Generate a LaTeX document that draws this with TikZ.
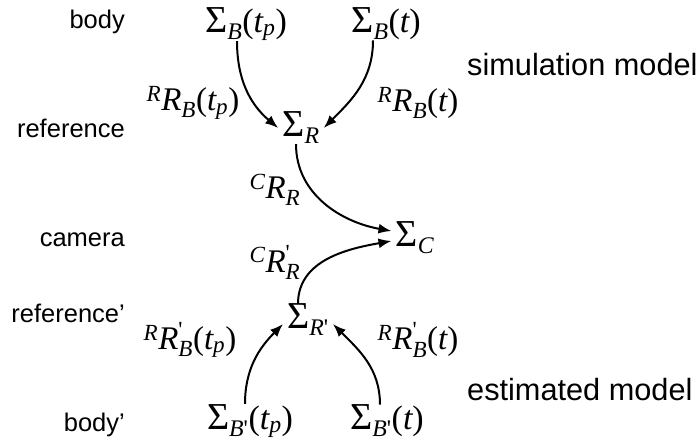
\documentclass[tikz,border=0pt]{standalone}
\usepackage{amsmath}
\usepackage{graphicx}
\usepackage{fontspec}
\setmainfont{Liberation Sans}
\newfontfamily\mfont{Liberation Serif}
\usetikzlibrary{arrows.meta}
\newcommand{\mi}[1]{\text{\mfont\itshape #1}}
\newcommand{\mr}[1]{\text{\mfont #1}}
\newcommand{\frm}[1]{\mr{\scalebox{1.12}{Σ}}_{#1}}
\tikzset{
  fr/.style={font=\fontsize{34}{36}\selectfont,inner sep=0pt},
  rotn/.style={font=\fontsize{33}{36}\selectfont,inner sep=0pt},
  side/.style={font=\fontsize{25.5}{28}\selectfont,anchor=east,inner sep=0pt},
  model/.style={font=\fontsize{30.7}{33}\selectfont,anchor=west,inner sep=0pt},
  link/.style={-{Latex[length=13pt,width=10pt]},line width=2pt},
}

\begin{document}
\begin{tikzpicture}[x=1pt,y=-1pt]
  \useasboundingbox (0,0) rectangle (699,443);

  % frames
  \node[fr] (sBtp) at (246,24) {$\frm{\mi{B}}\mr{(}\mi{t}_{\mi{p}}\mr{)}$};
  \node[fr] (sBt) at (386,24) {$\frm{\mi{B}}\mr{(}\mi{t}\mr{)}$};
  \node[fr] (sR) at (301,128) {$\frm{\mi{R}}$};
  \node[fr] (sC) at (415,238) {$\frm{\mi{C}}$};
  \node[fr] (sRp) at (308,320) {$\frm{\mi{R}\mr{'}}$};
  \node[fr] (sBptp) at (250,421) {$\frm{\mi{B}\mr{'}}\mr{(}\mi{t}_{\mi{p}}\mr{)}$};
  \node[fr] (sBpt) at (387,421) {$\frm{\mi{B}\mr{'}}\mr{(}\mi{t}\mr{)}$};

  % row names
  \node[side] (nbody) at (125,22) {body};
  \node[side] (nref) at (125,128) {reference};
  \node[side] (ncam) at (125,240) {camera};
  \node[side] (nrefp) at (125,313) {reference'};
  \node[side] (nbodyp) at (125,425) {body'};
  \node[model] (sim) at (467,65) {simulation model};
  \node[model] (est) at (467,390) {estimated model};

  % rotations
  \node[rotn] (rBtp) at (193,103) {${}^{\mi{R}}\mi{R}_{\mi{B}}\mr{(}\mi{t}_{\mi{p}}\mr{)}$};
  \node[rotn] (rBt) at (418,103) {${}^{\mi{R}}\mi{R}_{\mi{B}}\mr{(}\mi{t}\mr{)}$};
  \node[rotn] (rCR) at (275,190) {${}^{\mi{C}}\mi{R}_{\mi{R}}$};
  \node[rotn] (rCRp) at (275,262) {${}^{\mi{C}}\mi{R}^{\mr{'}}_{\mi{R}}$};
  \node[rotn] (rBptp) at (190,340) {${}^{\mi{R}}\mi{R}^{\mr{'}}_{\mi{B}}\mr{(}\mi{t}_{\mi{p}}\mr{)}$};
  \node[rotn] (rBpt) at (418,340) {${}^{\mi{R}}\mi{R}^{\mr{'}}_{\mi{B}}\mr{(}\mi{t}\mr{)}$};

  \draw[link] ([xshift=-9pt]sBtp.south) to[out=-90,in=140] ([xshift=-4pt]sR.west);
  \draw[link] ([xshift=-13pt]sBt.south) to[out=-90,in=45] ([xshift=4pt]sR.east);
  \draw[link] ([xshift=-5pt]sR.south) to[out=-90,in=170] ([shift={(-4pt,7pt)}]sC.west);
  \draw[link] ([xshift=-10pt]sRp.north) to[out=90,in=190] ([shift={(-4pt,-3pt)}]sC.west);
  \draw[link] ([xshift=-5pt]sBptp.north) to[out=90,in=225] ([shift={(-4pt,-4pt)}]sRp.west);
  \draw[link] ([xshift=-7pt]sBpt.north) to[out=90,in=-45] ([shift={(4pt,-4pt)}]sRp.east);
\end{tikzpicture}
\end{document}
